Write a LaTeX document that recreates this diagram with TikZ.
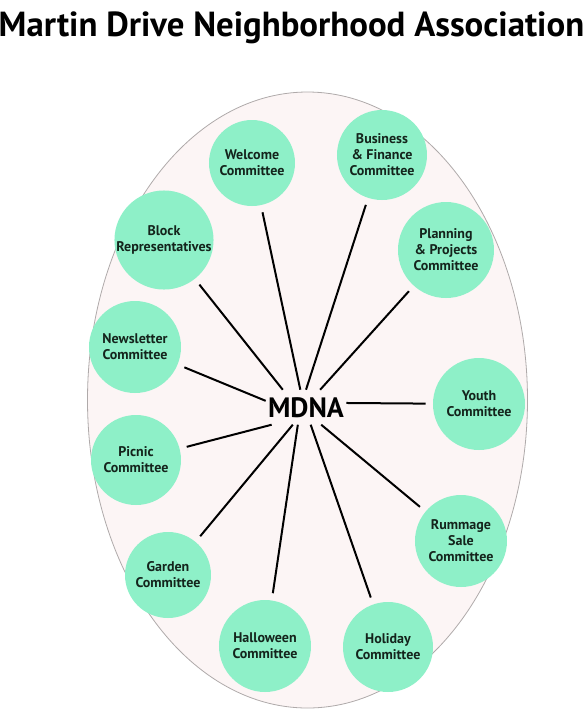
\documentclass[tikz,border=0pt]{standalone}
\usepackage{fontspec}
\setmainfont{PT Sans}
\usepackage{tikz}
\usetikzlibrary{positioning}
\definecolor{mdmint}{RGB}{142,240,200}
\definecolor{mdpink}{RGB}{252,245,245}
\definecolor{mdrim}{RGB}{175,170,170}
\definecolor{mdink}{RGB}{20,36,28}

\begin{document}
\begin{tikzpicture}[x=0.5pt, y=-0.5pt,
  committee/.style={circle, fill=mdmint, minimum size=46pt, inner sep=0pt, align=center, text=mdink, font=\fontsize{7}{8}\selectfont\bfseries},
  spoke/.style={line width=1pt, black, shorten >=3.5pt}]
  \useasboundingbox (0,0) rectangle (583,720);
  \node[font=\fontsize{17.4}{20}\selectfont\bfseries, anchor=base] (title) at (291.5,36) {Martin Drive Neighborhood Association};

  %--- background oval ---
  \fill[mdpink, draw=mdrim, line width=0.4pt] (307.5,400) ellipse [x radius=220, y radius=308];

  %--- hub ---
  \node[font=\fontsize{14}{16}\selectfont\bfseries, inner xsep=1pt, inner ysep=3.5pt, anchor=base] (hub) at (306,417) {MDNA};

  %--- committees ---
  \node[committee, minimum size=43pt] (welcome) at (252,163) {Welcome\\Committee};
  \node[committee, minimum size=45pt] (business) at (382,155) {Business\\\& Finance\\Committee};
  \node[committee] (block) at (164,240) {Block\\Representatives};
  \node[committee, minimum size=48pt] (planning) at (446,250) {Planning\\\& Projects\\Committee};
  \node[committee] (newsletter) at (135,347) {Newsletter\\Committee};
  \node[committee] (youth) at (479,404) {Youth\\Committee};
  \node[committee, minimum size=45pt] (picnic) at (136,460) {Picnic\\Committee};
  \node[committee] (rummage) at (461,541) {Rummage\\Sale\\Committee};
  \node[committee, minimum size=43pt] (garden) at (168,575) {Garden\\Committee};
  \node[committee] (halloween) at (265,646) {Halloween\\Committee};
  \node[committee, minimum size=45pt] (holiday) at (388,647) {Holiday\\Committee};

  %--- spokes ---
  \draw[spoke] (hub.143) -- (block);
  \draw[spoke] (hub.108) -- (welcome);
  \draw[spoke] (hub.90) -- (business);
  \draw[spoke] (hub.51) -- (planning);
  \draw[spoke] (hub.171) -- (newsletter);
  \draw[spoke] (hub.6) -- (youth);
  \draw[spoke] (hub.207) -- (picnic);
  \draw[spoke] (hub.233) -- (garden);
  \draw[spoke] (hub.245) -- (halloween);
  \draw[spoke] (hub.285) -- (holiday);
  \draw[spoke] (hub.311) -- (rummage);
\end{tikzpicture}
\end{document}
